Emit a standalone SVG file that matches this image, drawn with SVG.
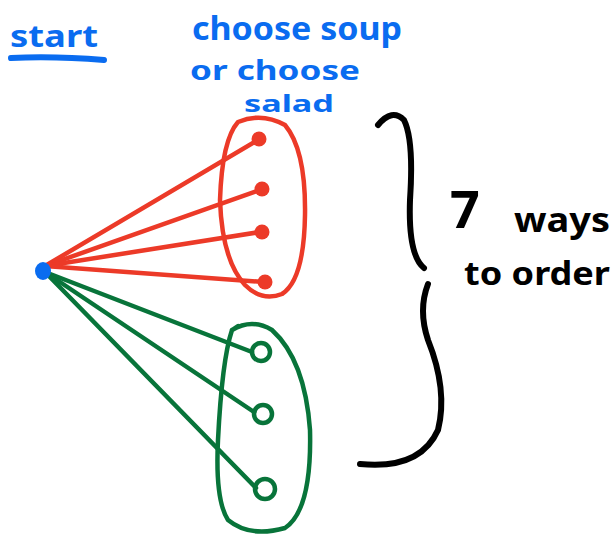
<svg xmlns="http://www.w3.org/2000/svg" width="615" height="535" viewBox="0 0 615 535">
  <style>
    .ink { fill: none; stroke-linecap: round; stroke-linejoin: round; }
    .blue { fill: #0a6cf0; }
    .txt { font-family: "Comic Sans MS", "Noto Sans", "Liberation Sans", sans-serif; font-weight: bold; }
    .red { stroke: #ec3a28; stroke-width: 4.5; }
    .green { stroke: #08743a; stroke-width: 4.5; }
    .black { stroke: #000; stroke-width: 6; }
  </style>
  <rect width="615" height="535" fill="#fff"/>

  <!-- headings -->
  <g id="start-label">
    <text class="txt blue" x="10" y="47" font-size="30" textLength="88" lengthAdjust="spacingAndGlyphs">start</text>
    <path class="ink" d="M11 58 Q55 56 104 60" stroke="#0a6cf0" stroke-width="6"/>
  </g>
  <g id="choice-label">
    <text class="txt blue" x="192" y="40" font-size="32" textLength="210" lengthAdjust="spacingAndGlyphs">choose soup</text>
    <text class="txt blue" x="190" y="80" font-size="26" textLength="170" lengthAdjust="spacingAndGlyphs">or  choose</text>
    <text class="txt blue" x="244" y="112" font-size="24" textLength="90" lengthAdjust="spacingAndGlyphs">salad</text>
  </g>

  <!-- connectors from the start point -->
  <g id="connectors">
    <g class="ink red">
      <line x1="45" y1="266" x2="258" y2="140"/>
      <line x1="45" y1="266" x2="260" y2="190"/>
      <line x1="45" y1="266" x2="260" y2="232"/>
      <line x1="45" y1="266" x2="264" y2="282"/>
    </g>
    <g class="ink green">
      <line x1="45" y1="272" x2="252" y2="352"/>
      <line x1="45" y1="272" x2="254" y2="412"/>
      <line x1="45" y1="272" x2="256" y2="488"/>
    </g>
  </g>

  <g id="start-node">
    <ellipse cx="43" cy="271" rx="8" ry="9" fill="#0a6cf0"/>
  </g>

  <!-- soup options -->
  <g id="soup-group">
    <path class="ink red" d="M238 122 Q262 112 285 125 Q306 150 305 215 Q304 280 282 294 Q262 302 245 285 Q222 260 220 200 Q222 140 238 122 Z"/>
    <circle cx="259" cy="139" r="7.5" fill="#ec3a28"/>
    <circle cx="262" cy="189" r="7.5" fill="#ec3a28"/>
    <circle cx="262" cy="232" r="7.5" fill="#ec3a28"/>
    <circle cx="265" cy="282" r="7.5" fill="#ec3a28"/>
  </g>

  <!-- salad options -->
  <g id="salad-group">
    <path class="ink green" d="M232 330 Q252 318 272 330 Q305 360 310 430 Q312 510 285 528 Q250 538 228 520 Q215 500 218 440 Q222 360 232 330 L238 326"/>
    <circle class="ink green" cx="261" cy="352" r="9" stroke-width="5"/>
    <circle class="ink green" cx="263" cy="414" r="9" stroke-width="5"/>
    <circle class="ink green" cx="265" cy="489" r="10" stroke-width="5"/>
  </g>

  <!-- brace and total -->
  <g id="total">
    <path class="ink black" d="M378 125 Q392 108 404 120 Q414 140 410 200 Q408 255 424 268"/>
    <path class="ink black" d="M428 284 Q418 310 428 340 Q448 390 438 430 Q420 470 360 464"/>
    <text class="txt" x="450" y="228" font-size="52" fill="#000">7</text>
    <text class="txt" x="514" y="232" font-size="34" fill="#000" textLength="96" lengthAdjust="spacingAndGlyphs">ways</text>
    <text class="txt" x="464" y="285" font-size="32" fill="#000" textLength="146" lengthAdjust="spacingAndGlyphs">to order</text>
  </g>
</svg>
